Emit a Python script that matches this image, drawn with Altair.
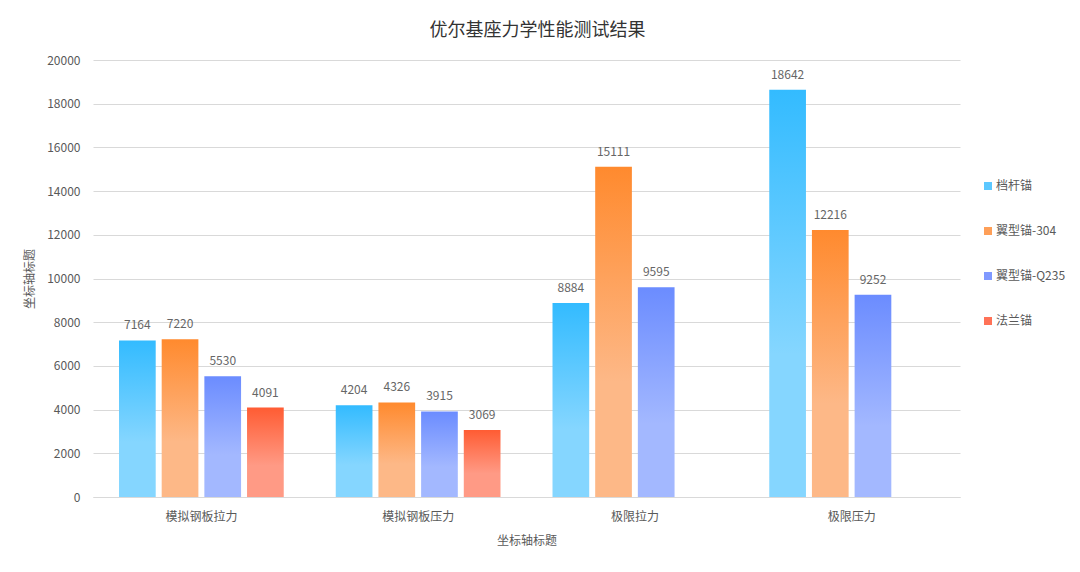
import altair as alt
import pandas as pd

categories = ["模拟钢板拉力", "模拟钢板压力", "极限拉力", "极限压力"]
series = ["档杆锚", "翼型锚-304", "翼型锚-Q235", "法兰锚"]
v_dg = [7164, 4204, 8884, 18642]
v_304 = [7220, 4326, 15111, 12216]
v_q235 = [5530, 3915, 9595, 9252]
v_fl = [4091, 3069, None, None]

top_colors = ["#33BBFF", "#FF8A2E", "#6B8CFF", "#FF5C33"]
bottom_colors = ["#85D6FF", "#FDB887", "#A3B8FF", "#FF9A85"]
legend_colors = ["#5CC8FF", "#FE9F58", "#8099FF", "#FF7257"]

rows = []
for s, vals in zip(series, [v_dg, v_304, v_q235, v_fl]):
    for c, v in zip(categories, vals):
        if v is not None:
            rows.append({"cat": c, "series": s, "value": v})
df = pd.DataFrame(rows)

FONT = "Noto Sans CJK SC"
GRAY = "#595959"

x_enc = alt.X("cat:N", sort=categories,
              scale=alt.Scale(paddingInner=0.24, paddingOuter=0.12),
              axis=alt.Axis(title="坐标轴标题", labelAngle=0, labelPadding=14,
                            titlePadding=13, domainColor="#D9D9D9", ticks=False,
                            grid=False))
xo_enc = alt.XOffset("series:N", sort=series,
                     scale=alt.Scale(domain=series, paddingInner=0.14, paddingOuter=0))
y_enc = alt.Y("value:Q",
              scale=alt.Scale(domain=[0, 20000], nice=False),
              axis=alt.Axis(title="坐标轴标题", values=list(range(0, 20001, 2000)),
                            format="d",
                            grid=True, gridColor="#D9D9D9", domain=False, ticks=False,
                            labelPadding=13, titlePadding=10))

base = alt.Chart(df)
layers = []
for s, tc, bc in zip(series, top_colors, bottom_colors):
    grad = alt.Gradient(gradient="linear", x1=0, x2=0, y1=0, y2=1,
                        stops=[alt.GradientStop(color=tc, offset=0),
                               alt.GradientStop(color=bc, offset=0.65),
                               alt.GradientStop(color=bc, offset=1)])
    layers.append(
        base.transform_filter(alt.datum.series == s)
        .mark_bar(color=grad)
        .encode(x=x_enc, xOffset=xo_enc, y=y_enc)
    )

labels = base.mark_text(baseline="bottom", dy=-8, fontSize=12, color="#666666", font=FONT).encode(
    x=x_enc, xOffset=xo_enc, y=y_enc, text=alt.Text("value:Q", format="d")
)

legend_layer = base.mark_square(opacity=0).encode(
    x=x_enc, xOffset=xo_enc, y=y_enc,
    color=alt.Color("series:N", sort=series,
                    scale=alt.Scale(domain=series, range=legend_colors),
                    legend=alt.Legend(title=None, orient="none", legendX=889, legendY=120,
                                      symbolType="square", symbolSize=64,
                                      symbolOpacity=1, symbolStrokeWidth=0,
                                      rowPadding=33, labelFontSize=12,
                                      labelColor=GRAY, labelFont=FONT, labelOffset=2))
)

chart = alt.layer(*layers, labels, legend_layer).properties(
    width=867, height=437,
    background="white",
    title=alt.TitleParams("优尔基座力学性能测试结果", fontSize=18, font=FONT,
                          fontWeight="normal", color="#333333", anchor="middle",
                          dx=11, offset=14),
    autosize=alt.AutoSizeParams(type="none"),
    padding={"left": 85, "top": 52, "right": 110, "bottom": 60},
).configure_axis(
    labelFont=FONT, titleFont=FONT, labelColor=GRAY, titleColor=GRAY,
    labelFontSize=12, titleFontSize=12, titleFontWeight="normal"
).configure_view(stroke=None)

chart.save("out.html", embed_options={"renderer": "svg", "actions": False})
